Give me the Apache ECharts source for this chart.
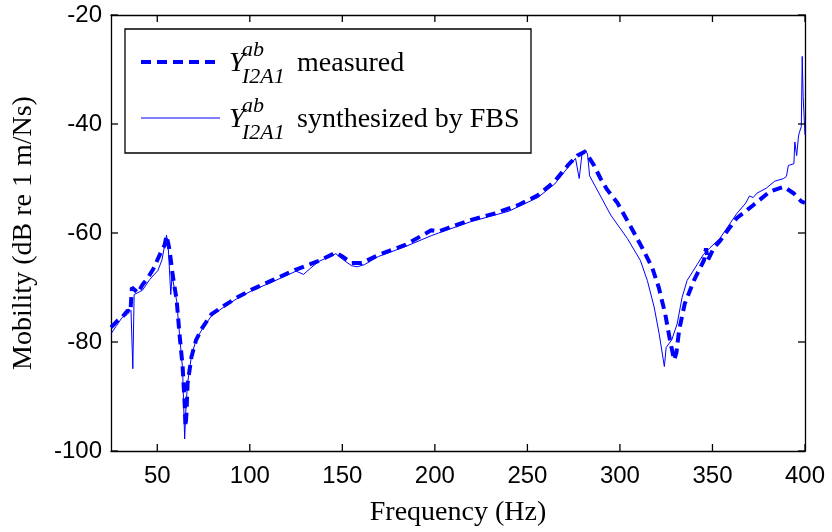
<!DOCTYPE html>
<html>
<head>
<meta charset="utf-8">
<script src="https://cdn.jsdelivr.net/npm/echarts@6/dist/echarts.min.js"></script>
<style>html,body{margin:0;padding:0;background:#fff}#c{width:832px;height:532px}</style>
</head>
<body>
<div id="c"></div>
<script>
// ---- data ----
var xTicks = [50, 100, 150, 200, 250, 300, 350, 400];
var yTicks = [-100, -80, -60, -40, -20];

var freqMeasured = [25, 28.8, 31, 34, 35.5, 36.3, 38, 39.5, 42, 45, 48, 50, 52, 54, 55, 56, 56.7, 58.3, 60.5, 62, 63.7, 64.8, 65.3, 65.8, 66.4, 68.5, 71, 74.5, 79.3, 86.3, 93.3, 101, 112, 125, 137.4, 146.5, 150, 155, 160.5, 169.6, 184, 198, 202, 207, 219.6, 232.5, 244.9, 255.6, 264.8, 271.8, 277, 281, 283, 286, 289.5, 293, 298.7, 300, 305.6, 312, 317.5, 321, 324.5, 327, 329.3, 330.5, 332, 335, 340, 345.4, 346.5, 347.5, 350.8, 354, 363, 372, 381, 388.5, 393.8, 398, 400];
var valMeasured = [-77.3, -76, -75.5, -74.2, -74.5, -70, -70.5, -71, -69.5, -68.2, -66.5, -65, -63.5, -62.2, -60.5, -62, -63.3, -67.6, -72.4, -78.5, -84.5, -91.3, -95.5, -93, -87.6, -82.7, -79.6, -77.3, -74.9, -73.3, -71.8, -70.4, -68.7, -66.7, -65.1, -63.6, -64.3, -65.5, -65.5, -64, -62.2, -59.5, -59.7, -59.1, -57.6, -56.4, -54.9, -53.1, -50.5, -47.6, -45.8, -45.1, -46, -47.6, -50, -52, -54.5, -55.3, -58.7, -62.7, -66.4, -70, -74.9, -79.6, -83.3, -82, -77.8, -73, -68.7, -65, -62.8, -65, -62.7, -61.5, -57.3, -54.9, -52.4, -51.5, -52.7, -54.2, -54.5];

var freqSynth = [25, 28, 31, 33.6, 35.8, 36.8, 37.5, 42, 46, 50.3, 52.5, 53.5, 55, 56, 57.3, 58, 60.5, 62, 63.7, 64.8, 65.5, 66.4, 68.5, 71, 74.5, 79.3, 86.3, 93.3, 101, 112, 125, 129, 133, 137.4, 146.5, 150, 155, 158, 162, 169.6, 184, 198, 202, 207, 219.6, 232.5, 240, 244.9, 255.6, 264.8, 271.8, 276, 278, 279.5, 281, 282.5, 283.6, 295, 304, 311, 314.8, 318.5, 321.2, 324, 325, 328, 330.9, 333.6, 336.3, 341.7, 345, 348.7, 354, 363, 368, 370, 372, 374, 379, 383.6, 388.5, 390, 391, 394, 394.5, 395.5, 396.5, 397, 398, 398.5, 399, 400];
var valSynth = [-78.5, -77, -75.5, -75, -74.2, -84.9, -71.3, -70.5, -68.5, -66.9, -65, -64.8, -60.4, -63, -71.3, -67.8, -72.5, -78.5, -85, -97.8, -92, -87.5, -82.5, -79.6, -77.5, -75.2, -73.5, -72, -70.6, -69, -67, -67.6, -66.4, -65.2, -63.8, -64.8, -66, -66.2, -65.8, -64.3, -62.5, -60.5, -60, -59.4, -57.9, -56.7, -56, -55.2, -53.5, -51, -48, -46.3, -50, -45.5, -44.7, -45.5, -49.5, -56.7, -61, -65, -68.7, -73.6, -78.5, -84.5, -81, -79.6, -76.7, -71.8, -68.7, -65.8, -64, -62.7, -61, -56.5, -54.5, -53.2, -53.5, -52.7, -51.8, -50.5, -50, -49.6, -47.6, -47.3, -43.3, -45.8, -42.2, -41.5, -40.5, -27.6, -35, -42];

function pairs(xs, ys) { return xs.map(function (x, i) { return [x, ys[i]]; }); }

var BLUE = '#0000ff';
var XMIN = 25, XMAX = 400, YMIN = -100, YMAX = -20;
var chart = echarts.init(document.getElementById('c'), null, { renderer: 'canvas' });
function axLine() { return { show: true, onZero: false, lineStyle: { color: '#000', width: 1.3 } }; }

var legendGraphics = [
  { type: 'rect', shape: { x: 125, y: 29, width: 406, height: 124 }, style: { fill: '#fff', stroke: '#000', lineWidth: 1.3 }, z: 10 },
  { type: 'line', shape: { x1: 141, y1: 62, x2: 220, y2: 62 }, style: { stroke: BLUE, lineWidth: 4, lineDash: [10, 6] }, z: 11 },
  { type: 'line', shape: { x1: 141, y1: 118, x2: 220, y2: 118 }, style: { stroke: BLUE, lineWidth: 1 }, z: 11 },
  { type: 'text', x: 229, y: 64, style: { text: 'Y', font: 'italic 28px "Liberation Serif"', fill: '#000', textVerticalAlign: 'middle' }, z: 11 },
  { type: 'text', x: 242, y: 50, style: { text: 'ab', font: 'italic 22px "Liberation Serif"', fill: '#000', textVerticalAlign: 'middle' }, z: 11 },
  { type: 'text', x: 242, y: 77, style: { text: 'I2A1', font: 'italic 22px "Liberation Serif"', fill: '#000', textVerticalAlign: 'middle' }, z: 11 },
  { type: 'text', x: 297, y: 64, style: { text: 'measured', font: '28px "Liberation Serif"', fill: '#000', textVerticalAlign: 'middle' }, z: 11 },
  { type: 'text', x: 229, y: 120, style: { text: 'Y', font: 'italic 28px "Liberation Serif"', fill: '#000', textVerticalAlign: 'middle' }, z: 11 },
  { type: 'text', x: 242, y: 106, style: { text: 'ab', font: 'italic 22px "Liberation Serif"', fill: '#000', textVerticalAlign: 'middle' }, z: 11 },
  { type: 'text', x: 242, y: 133, style: { text: 'I2A1', font: 'italic 22px "Liberation Serif"', fill: '#000', textVerticalAlign: 'middle' }, z: 11 },
  { type: 'text', x: 297, y: 120, style: { text: 'synthesized by FBS', font: '28px "Liberation Serif"', fill: '#000', textVerticalAlign: 'middle' }, z: 11 }
];

chart.setOption({
  backgroundColor: '#fff',
  animation: false,
  grid: { left: 111, right: 27, top: 15, bottom: 77 },
  xAxis: [{
    type: 'value', min: XMIN, max: XMAX, position: 'bottom',
    name: 'Frequency (Hz)', nameLocation: 'middle', nameGap: 48,
    nameTextStyle: { fontFamily: 'Liberation Serif', fontSize: 28, color: '#000' },
    axisLine: axLine(),
    axisTick: { show: false },
    axisLabel: { customValues: xTicks, margin: 13, fontFamily: 'Liberation Sans', fontSize: 24, color: '#000' },
    splitLine: { show: false }
  }, {
    type: 'value', min: XMIN, max: XMAX, position: 'top',
    axisLine: axLine(), axisTick: { show: false }, axisLabel: { show: false }, splitLine: { show: false }
  }],
  yAxis: [{
    type: 'value', min: YMIN, max: YMAX, position: 'left',
    name: 'Mobility (dB re 1 m/Ns)', nameLocation: 'middle', nameGap: 73,
    nameTextStyle: { fontFamily: 'Liberation Serif', fontSize: 28, color: '#000' },
    axisLine: axLine(),
    axisTick: { show: false },
    axisLabel: { customValues: yTicks, margin: 9, fontFamily: 'Liberation Sans', fontSize: 24, color: '#000' },
    splitLine: { show: false }
  }, {
    type: 'value', min: YMIN, max: YMAX, position: 'right',
    axisLine: axLine(), axisTick: { show: false }, axisLabel: { show: false }, splitLine: { show: false }
  }],
  series: [{
    name: 'measured', type: 'line', xAxisIndex: 0, yAxisIndex: 0,
    data: pairs(freqMeasured, valMeasured), showSymbol: false, symbol: 'none',
    lineStyle: { color: BLUE, width: 4, type: [10, 6] }, z: 3
  }, {
    name: 'synthesized', type: 'line', xAxisIndex: 0, yAxisIndex: 0,
    data: pairs(freqSynth, valSynth), showSymbol: false, symbol: 'none',
    lineStyle: { color: BLUE, width: 1 }, z: 4
  }],
  graphic: legendGraphics
});

// inward tick marks on all four sides, positioned through the chart's scales
var TL = 7;
var tickGraphics = [];
var yTop = chart.convertToPixel({ yAxisIndex: 0 }, YMAX);
var yBot = chart.convertToPixel({ yAxisIndex: 0 }, YMIN);
var xLeft = chart.convertToPixel({ xAxisIndex: 0 }, XMIN);
var xRight = chart.convertToPixel({ xAxisIndex: 0 }, XMAX);
xTicks.forEach(function (v) {
  var px = chart.convertToPixel({ xAxisIndex: 0 }, v);
  tickGraphics.push({ type: 'line', shape: { x1: px, y1: yBot, x2: px, y2: yBot - TL }, style: { stroke: '#000', lineWidth: 1.3 }, z: 5, silent: true });
  tickGraphics.push({ type: 'line', shape: { x1: px, y1: yTop, x2: px, y2: yTop + TL }, style: { stroke: '#000', lineWidth: 1.3 }, z: 5, silent: true });
});
yTicks.forEach(function (v) {
  var py = chart.convertToPixel({ yAxisIndex: 0 }, v);
  tickGraphics.push({ type: 'line', shape: { x1: xLeft, y1: py, x2: xLeft + TL, y2: py }, style: { stroke: '#000', lineWidth: 1.3 }, z: 5, silent: true });
  tickGraphics.push({ type: 'line', shape: { x1: xRight, y1: py, x2: xRight - TL, y2: py }, style: { stroke: '#000', lineWidth: 1.3 }, z: 5, silent: true });
});
chart.setOption({ graphic: legendGraphics.concat(tickGraphics) });
</script>
</body>
</html>
